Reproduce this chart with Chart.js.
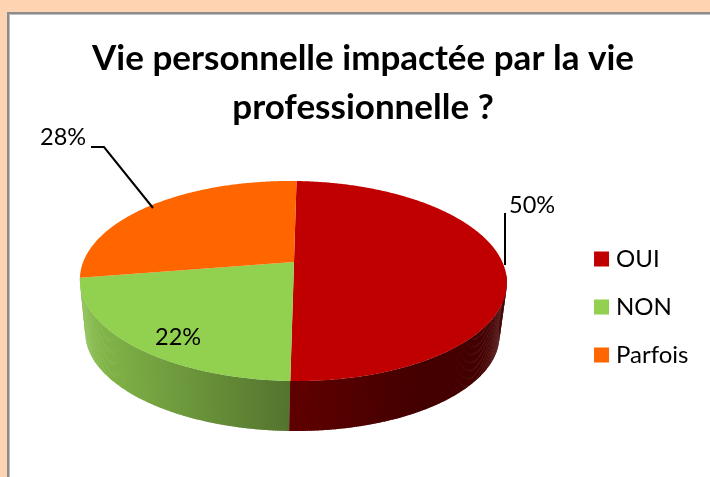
<!DOCTYPE html>
<html><head><meta charset="utf-8">
<style>
html,body{margin:0;padding:0;background:#fdd3b2;width:710px;height:477px;overflow:hidden}
#frame{position:absolute;left:7px;top:12px;width:703px;height:465px;background:#fff;border-left:2px solid #8c8c8c;border-top:2px solid #8c8c8c;box-shadow:inset 1px 1px 0 #bdbdbd;box-sizing:border-box}
canvas{position:absolute;left:0;top:0}
</style>
<script src="https://cdn.jsdelivr.net/npm/chart.js@4"></script>
</head><body>
<div id="frame"></div>
<canvas id="c" width="710" height="477"></canvas>
<script>
const categories = ['OUI', 'NON', 'Parfois'];
const shares = [50, 22, 28];
const sliceColors = ['#c00000', '#92d050', '#ff6600'];
const titleLines = ['Vie personnelle impactée par la vie', 'professionnelle ?'];

// perspective tilt applied to the library's arc angles
const P = {cx: 294, ay: 262, a: 46.6, c: -0.19, w: 209.6, s: -3, tilt: 3, k: 0.97, d: 61.4};
function top3d(angle) {            // angle in Chart.js radians (-PI/2 = 12 o'clock)
  const X = Math.cos(angle), Y = Math.sin(angle), q = P.c * Y + 1;
  return [P.cx + (P.w * X + P.s * Y) / q, (P.a * Y + P.tilt * X + P.ay) / q];
}
function bottom3d(angle) {
  const t = top3d(angle);
  return [P.cx - 1 + (t[0] - P.cx + 1) * P.k - 1, t[1] * P.k + P.d];
}
function mix(a, b, f) {
  return 'rgb(' + a.map((v, i) => Math.round(v + (b[i] - v) * f)).join(',') + ')';
}
const wallRamps = [
  [[0x44, 0, 0], [0x60, 0, 0]],
  [[0x54, 0x74, 0x2e], [0x86, 0xbb, 0x4b]],
  [[0xb0, 0x46, 0], [0xb0, 0x46, 0]]
];
const pie3d = {
  id: 'pie3d',
  beforeDatasetsDraw(chart) {
    const ctx = chart.ctx, arcs = chart.getDatasetMeta(0).data;
    const step = Math.PI / 360;
    ctx.save();
    arcs.slice().reverse().forEach((arc) => {
      const i = arcs.indexOf(arc);
      const from = Math.max(arc.startAngle, 0.1), to = Math.min(arc.endAngle, 2.96);
      const x0 = top3d(Math.PI / 2)[0], xL = 81;
      for (let t = from; t < to; t += step) {
        const t2 = Math.min(t + step * 1.6, to);
        const a = top3d(t), b = top3d(t2), c = bottom3d(t2), d = bottom3d(t);
        const col = i === 0 ? mix(wallRamps[0][1], wallRamps[0][0], Math.max(0, Math.min(1, (a[0] - x0) / 130)))
                            : mix(wallRamps[i][0], wallRamps[i][1], Math.max(0, Math.min(1, (x0 - a[0]) / (x0 - xL))));
        ctx.fillStyle = col;
        ctx.beginPath();
        ctx.moveTo(a[0], a[1]); ctx.lineTo(b[0], b[1]); ctx.lineTo(c[0], c[1]); ctx.lineTo(d[0], d[1]);
        ctx.closePath(); ctx.fill();
      }
    });
    arcs.forEach((arc, i) => {
      ctx.fillStyle = sliceColors[i];
      ctx.beginPath();
      ctx.moveTo(P.cx, P.ay);
      for (let t = arc.startAngle; t < arc.endAngle; t += step) {
        const p = top3d(t); ctx.lineTo(p[0], p[1]);
      }
      const e = top3d(arc.endAngle); ctx.lineTo(e[0], e[1]);
      ctx.closePath(); ctx.fill();
    });
    ctx.restore();
    return false;
  },
  afterDraw(chart) {
    const ctx = chart.ctx;
    ctx.save();
    ctx.strokeStyle = '#000'; ctx.lineWidth = 2;
    ctx.beginPath();
    ctx.moveTo(91, 147); ctx.lineTo(104, 147); ctx.lineTo(153, 208);
    ctx.moveTo(505, 213); ctx.lineTo(505, 265);
    ctx.stroke();
    ctx.fillStyle = '#000'; ctx.font = '23.5px Lato'; ctx.textBaseline = 'alphabetic'; ctx.textAlign = 'left';
    const labels = shares.map(v => v + '%');
    ctx.fillText(labels[0], 509, 213);
    ctx.fillText(labels[1], 155, 345);
    ctx.fillText(labels[2], 40, 145);
    ctx.restore();
  }
};
new Chart(document.getElementById('c'), {
  type: 'pie',
  data: {labels: categories, datasets: [{data: shares, backgroundColor: sliceColors, borderWidth: 0}]},
  options: {
    responsive: false, animation: false,
    layout: {padding: {top: 34, right: 11.5, bottom: 0, left: 27.5}},
    plugins: {
      tooltip: {enabled: false},
      title: {display: true, text: titleLines, color: '#000', align: 'center',
        font: {family: 'Lato', weight: 'bold', size: 35, lineHeight: 1.4}, padding: {top: 0, bottom: 5}},
      legend: {position: 'right', fullSize: false,
        labels: {usePointStyle: true, pointStyle: 'rect', boxWidth: 5, boxHeight: 15, padding: 24, color: '#000', font: {family: 'Lato', size: 24}}}
    }
  },
  plugins: [pie3d]
});
</script>
</body></html>
